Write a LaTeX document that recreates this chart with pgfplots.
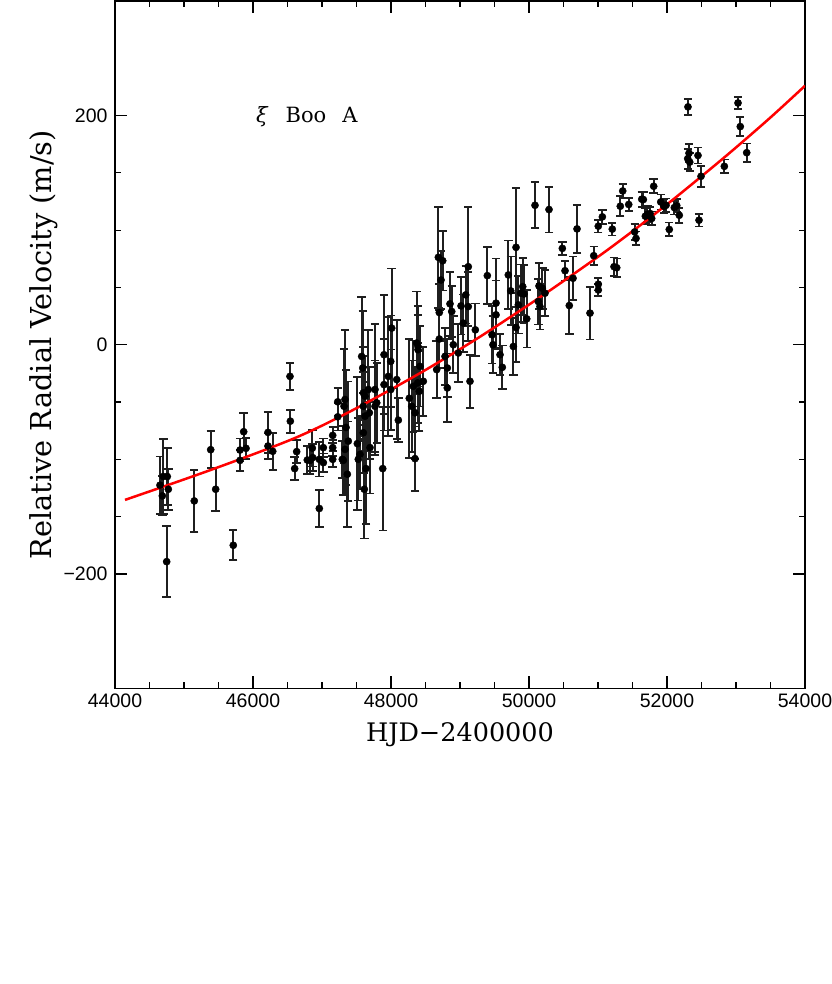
\documentclass[border=0pt]{standalone}
\usepackage{fontspec}
\usepackage{pgfplots}
\usepackage{pgfplotstable}
\pgfplotsset{compat=1.18}
\newfontfamily\tickfont{Liberation Sans}
\newfontfamily\labfont{DejaVu Serif}
\pgfplotstableread{
x y e
44652 -122.6 25
44686 -131.9 17
44700 -115.0 33
44758 -115.0 25
44773 -126.1 18
44749 -189.3 31
45149 -136.3 27
45387 -91.6 16
45459 -126.1 19
45714 -175.0 13
45812 -91.9 10
45812 -100.9 9
45865 -75.9 16
45899 -90.4 9
46217 -76.5 18
46217 -88.4 11
46286 -93.0 16
46541 -66.7 10
46536 -27.6 12
46604 -108.1 10
46633 -93.3 10
46787 -100.6 12
46826 -100.9 12
46860 -90.2 16
46865 -98.5 12
46961 -100.0 15
46961 -142.9 16
47019 -89.8 8
47019 -102.9 8
47155 -79.1 7
47155 -89.8 7
47155 -100.0 7
47228 -49.8 12
47228 -62.9 12
47294 -100.0 16
47367 -113.0 46
47381 -84.1 52
47348 -72.2 50
47333 -47.8 61
47319 -53.7 50
47333 -91.3 40
47309 -100.9 30
47512 -86.3 58
47526 -100.0 36
47575 -10.2 52
47590 -20.3 50
47551 -95.7 30
47599 -42.0 40
47623 -45.0 35
47599 -53.7 30
47623 -62.4 30
47599 -76.8 35
47613 -126.1 43
47638 -108.1 48
47671 -39.1 52
47686 -59.4 40
47696 -89.8 40
47768 -39.1 57
47768 -53.7 40
47793 -50.7 35
47880 -108.1 54
47899 -8.7 52
47899 -34.8 40
47961 -27.6 52
47996 -14.5 40
48010 14.5 52
47996 -39.1 35
48083 -30.4 52
48106 -65.8 19
48265 -46.7 52
48300 -53.7 40
48323 -36.3 40
48348 -59.4 40
48348 -99.4 28
48372 1.5 45
48391 -1.5 35
48420 -18.9 35
48387 -33.3 35
48410 -40.6 35
48468 -31.9 30
48391 -4.3 30
48686 76.3 44
48749 73.3 26
48725 56.5 25
48700 28.1 25
48700 5.0 25
48662 -21.7 25
48783 -10.2 25
48816 -20.3 25
48816 -37.7 30
48855 35.7 28
48880 29.0 22
48903 0 25
48976 -7.2 25
49015 33.9 25
49048 18.9 25
49083 43.5 25
49120 68.1 52
49120 33.3 30
49145 -31.9 23
49222 13.0 23
49396 60.3 25
49522 36.3 39
49522 26.1 30
49464 8.7 25
49478 0 25
49580 -8.7 18
49613 -19.7 19
49700 60.9 30
49735 47.0 30
49773 -1.5 25
49812 85.0 52
49812 15.0 30
49845 34.8 25
49880 45.0 25
49909 50.7 25
49928 44.3 25
49967 22.6 25
50087 121.7 20
50145 51.3 20
50193 49.3 18
50135 37.7 20
50159 33.3 20
50232 45.0 20
50290 118.0 20
50483 84.1 5.5
50522 64.6 8.5
50584 34.2 25
50638 58.0 19
50696 101.1 21
50884 27.6 23
50938 77.7 8
51004 52.8 5.5
51004 47.8 5.5
51004 103.5 5.5
51063 111.6 6
51207 100.9 5.5
51232 68.1 8
51271 67.2 8
51323 120.9 8.7
51358 134.2 6
51445 122.4 6
51532 98.5 7
51551 92.8 6
51634 127.0 6.5
51657 126.7 6.5
51686 112.2 7
51715 113.9 7
51754 114.5 6
51778 110.2 6
51807 138.3 6
51909 124.6 6.5
51957 120.9 6
51986 121.7 6
52033 100.6 6
52106 119.7 6
52141 121.5 6
52178 113.0 6.5
52304 207.6 7
52300 162.4 8.7
52319 167.2 8
52329 159.4 8
52449 165.2 7
52464 108.7 5.5
52493 147.0 9
52831 155.7 6
53029 211.0 5.5
53062 190.4 8.5
53155 167.6 8
}\rvdata
\begin{document}
\begin{tikzpicture}
\path[use as bounding box] (0,0) rectangle (831pt,984pt);
\begin{axis}[
  at={(115pt,295.5pt)}, anchor=south west,
  width=690pt, height=687.5pt, scale only axis,
  xmin=44000, xmax=54000, ymin=-300, ymax=300,
  scaled x ticks=false, scaled y ticks=false,
  xtick={44000,46000,48000,50000,52000,54000},
  xticklabels={44000,46000,48000,50000,52000,54000},
  ytick={-200,0,200}, yticklabels={−200,0,200},
  minor x tick num=3, minor y tick num=3,
  tick align=inside,
  major tick length=12pt, minor tick length=6pt,
  axis line style={line width=1.5pt},
  every tick/.style={line width=1.2pt, black},
  ticklabel style={font=\tickfont\fontsize{19.5}{22}\selectfont},
  xticklabel style={yshift=-1.5pt},
  yticklabel style={xshift=-4pt},
  xlabel={HJD−2400000},
  ylabel={Relative Radial Velocity (m/s)},
  xlabel style={font=\labfont\fontsize{25.5}{28}\selectfont, at={(axis description cs:0.5,-0.0676)}, anchor=center},
  ylabel style={font=\labfont\fontsize{28.8}{31}\selectfont, at={(axis description cs:-0.103,0.5)}, anchor=center},
]
\addplot[only marks, mark=*, mark size=3.6pt, black,
  error bars/.cd, y dir=both, y explicit,
  error bar style={line width=1.8pt, black!88},
  error mark options={rotate=90, mark size=4.2pt, line width=1.8pt, black!88}]
  table[x=x, y=y, y error=e] {\rvdata};
\addplot[red, line width=2.5pt, smooth] coordinates {
(44145,-135.4) (45377,-109.5) (46580,-82.1) (47406,-58.3) (48420,-24.8)
(49290,7.0) (50160,41.5) (51029,78.0) (51609,104.1) (52188,131.6)
(52870,165.5) (53493,198.0) (54000,226.0)};
\node[font=\labfont\fontsize{21}{24}\selectfont, anchor=base] at (rel axis cs:0.278,0.823) {\itshape ξ\upshape\hspace{18pt}Boo\hspace{16pt}A};
\end{axis}
\end{tikzpicture}
\end{document}
